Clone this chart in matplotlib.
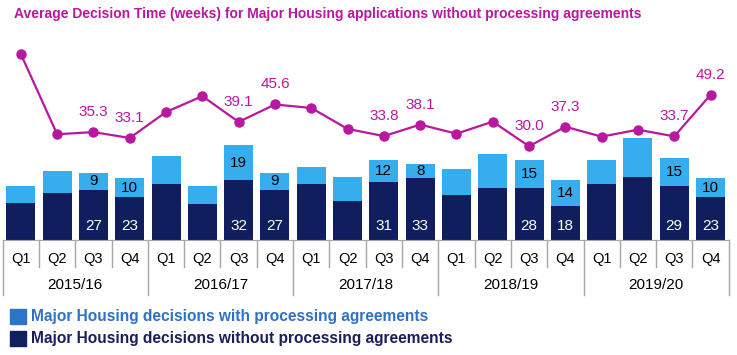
import matplotlib
matplotlib.use("Agg")
import matplotlib.pyplot as plt
from matplotlib.patches import Rectangle

plt.rcParams['font.family'] = ['Liberation Sans', 'DejaVu Sans']

years = ["2015/16", "2016/17", "2017/18", "2018/19", "2019/20"]
quarters = ["Q1", "Q2", "Q3", "Q4"]
without_pa = [20, 25, 27, 23, 30, 19, 32, 27, 30, 21, 31, 33, 24, 28, 28, 18, 30, 34, 29, 23]
with_pa = [9, 12, 9, 10, 15, 10, 19, 9, 9, 13, 12, 8, 14, 18, 15, 14, 13, 21, 15, 10]
avg_weeks = [64.4, 34.5, 35.3, 33.1, 42.8, 48.7, 39.1, 45.6, 44.3, 36.5,
             33.8, 38.1, 34.7, 39.2, 30.0, 37.3, 33.6, 36.2, 33.7, 49.2]
title = "Average Decision Time (weeks) for Major Housing applications without processing agreements"
legend_labels = ["Major Housing decisions with processing agreements",
                 "Major Housing decisions without processing agreements"]

NAVY = "#101E5E"
LIGHT = "#36AEEE"
MAGENTA = "#B8179F"
GRID = "#A6A6A6"

W, H = 737, 355
fig = plt.figure(figsize=(W / 100, H / 100), dpi=100)
left_px, right_px, top_px, base_px = 2.7, 728.7, 30, 239.5
ax = fig.add_axes([left_px / W, (H - base_px) / H, (right_px - left_px) / W, (base_px - top_px) / H])
ax_h = base_px - top_px

n = len(without_pa)
x = list(range(n))
ax.bar(x, without_pa, width=0.8, color=NAVY, zorder=2)
ax.bar(x, with_pa, width=0.8, bottom=without_pa, color=LIGHT, zorder=2)
ax.set_xlim(-0.5, n - 0.5)
ax.set_ylim(0, ax_h / 1.85)

for i in range(n):
    if i % 4 in (2, 3):
        ax.text(i, without_pa[i] + with_pa[i] / 2, str(with_pa[i]), ha='center', va='center',
                fontsize=11, color='black', zorder=3)
        ax.annotate(str(without_pa[i]), (i, 0), xytext=(0, 14), textcoords='offset pixels',
                    ha='center', va='center', fontsize=11, color='white', zorder=3)

ax2 = ax.twinx()
ax2.set_ylim((226.7 - base_px) / 2.68, (226.7 - top_px) / 2.68)
ax2.plot(x, avg_weeks, color=MAGENTA, lw=1.6, marker='o', markersize=6.5, zorder=4)
for i in range(n):
    if i % 4 in (2, 3):
        ax2.annotate(f"{avg_weeks[i]:.1f}", (i, avg_weeks[i]), xytext=(0, 20), textcoords='offset pixels',
                     ha='center', va='center', fontsize=11, color=MAGENTA)

for a in (ax, ax2):
    for s in a.spines.values():
        s.set_visible(False)
    a.set_xticks([])
    a.set_yticks([])
    a.patch.set_visible(False)
ax.spines['bottom'].set_visible(True)
ax.spines['bottom'].set_color(GRID)

trans = ax.get_xaxis_transform()
short = (base_px - 267) / ax_h
long_ = (base_px - 295) / ax_h
for b in range(n + 1):
    yb = long_ if b % 4 == 0 else short
    ax.plot([b - 0.5, b - 0.5], [0, yb], transform=trans, color=GRID, lw=1, clip_on=False)
for i in range(n):
    ax.text(i, (base_px - 259) / ax_h, quarters[i % 4], transform=trans, ha='center', va='center',
            fontsize=10.5, color='black')
for k, yl in enumerate(years):
    ax.text(4 * k + 1.5, (base_px - 285) / ax_h, yl, transform=trans, ha='center', va='center',
            fontsize=11, color='black')

fig.text(14 / W, 1 - 14 / H, title, ha='left', va='center', fontsize=10, fontweight='bold', color=MAGENTA)

leg_colors = ["#2E74C6", "#0F1F5F"]
leg_text_colors = ["#2F72C4", "#1A1E5A"]
for j, (lab, yc) in enumerate(zip(legend_labels, [316.7, 338])):
    fig.patches.append(Rectangle((10 / W, (H - yc - 7.5) / H), 16 / W, 15 / H, transform=fig.transFigure,
                                 color=leg_colors[j]))
    fig.text(31 / W, 1 - yc / H, lab, ha='left', va='center', fontsize=11.2, fontweight='bold',
             color=leg_text_colors[j])

fig.savefig("out.png", dpi=100)
